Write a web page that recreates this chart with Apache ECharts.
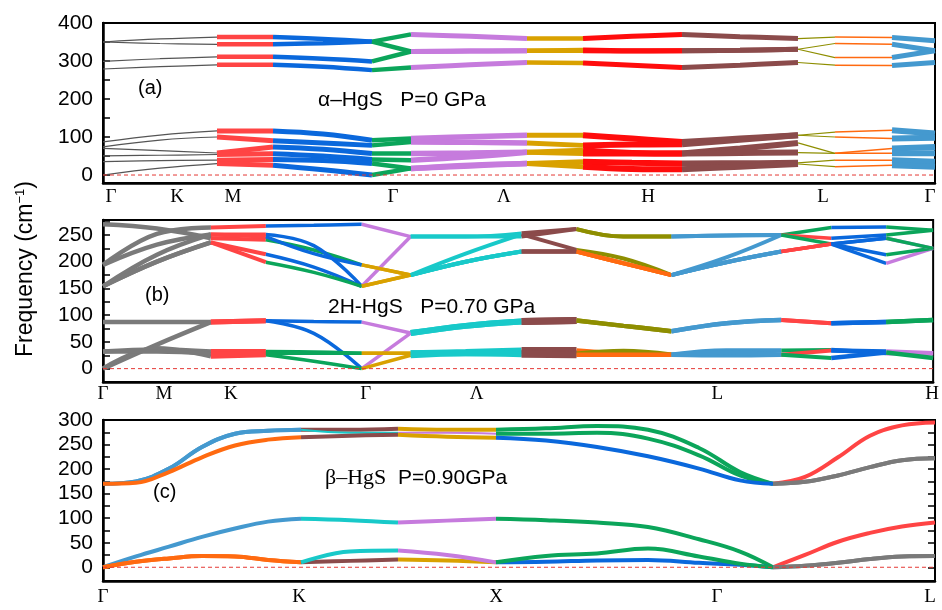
<!DOCTYPE html>
<html><head><meta charset="utf-8">
<script src="https://cdn.jsdelivr.net/npm/echarts@6/dist/echarts.min.js"></script>
<style>html,body{margin:0;padding:0;background:#fff}#c{width:942px;height:610px}</style>
</head><body><div id="c"></div>
<script>
// ---------------- DATA ----------------
// panel (a) alpha-HgS, path coordinate and band frequencies (cm^-1)
const aPath = [0, 57, 114, 170, 220, 269, 308, 367, 424, 480, 529, 579, 637, 695, 732, 789, 832];
const aH1 = [350, 358, 363, 363, 358, 351, 370, 365, 359, 359, 365, 370, 364, 359, 363, 362, 353];
const aH2 = [350, 346, 344, 344, 347, 351, 325, 326, 327, 329, 327, 327, 328, 331, 346, 344, 327];
const aH3 = [299, 306, 311, 311, 306, 299, 325, 326, 327, 327, 326, 327, 328, 331, 309, 309, 327];
const aH4 = [279, 285, 290, 290, 285, 276, 283, 290, 296, 295, 289, 283, 289, 296, 289, 288, 296];
const aL1 = [87, 105, 116, 116, 108, 91.5, 96, 101, 104.6, 104.6, 96, 87, 96, 104.6, 113, 117.6, 109];
const aL2 = [74, 92, 100, 90, 84, 78, 87, 86, 84.5, 78, 80, 81, 93, 104.6, 100, 96, 98];
const aL3 = [70, 64, 58, 74, 68, 56.6, 56.6, 58, 60, 65, 58, 56.6, 70, 84.5, 57, 70, 74];
const aL4 = [50.5, 52, 54, 56, 50, 41, 39, 48, 60, 56.6, 57, 56.6, 58, 59, 57, 57, 57];
const aL5 = [35, 38, 39, 41, 38, 30.5, 17.4, 24, 30.5, 35, 32, 30.5, 31, 32, 39, 39, 35];
const aL6 = [0, 18, 30, 26, 14, 0, 17.4, 26, 30.5, 22, 16, 15, 22, 29, 22, 26, 22];
const aTickNames = ['Γ', 'K', 'M', 'Γ', 'Λ', 'H', 'L', 'Γ'];
const aTickPos = [8, 74, 130, 290, 401, 545, 720, 827];
const aYTicks = [0, 50, 100, 150, 200, 250, 300, 350, 400];
const aYLabels = [0, 100, 200, 300, 400];

// panel (b) 2H-HgS
const bPath = [0, 54, 108, 163, 211, 259, 308, 363, 419, 474, 521, 569, 624, 679, 729, 784, 831];
const bA = [270, 262, 244, 241, 222, 194, 175, 200, 219, 219, 197, 175, 199, 219, 233, 197, 225];
const bB = [194, 252, 264, 267, 268, 270, 247, 247, 253, 261, 247, 247, 249, 250, 264, 265, 259];
const bC = [194, 232, 251, 251, 230, 154, 247, 247, 247, 261, 247, 247, 249, 250, 244, 250, 259];
const bD = [154, 213, 251, 247, 215, 194, 175, 215, 251, 222, 206, 175, 208, 250, 233, 213, 225];
const bE = [154, 200, 236, 214, 190, 154, 175, 200, 219, 219, 197, 175, 199, 219, 233, 244, 225];
const bF = [154, 200, 236, 199, 180, 154, 175, 200, 219, 219, 197, 175, 199, 219, 233, 244, 225];
const bQ1 = [87, 87, 87, 89.6, 88, 87, 66.5, 80, 88, 90, 80, 70, 85, 91, 85, 87, 91];
const bQ2 = [0, 45, 87, 89.6, 66, 0, 66.5, 80, 88, 90, 80, 70, 85, 91, 85, 87, 91];
const bQ3 = [32, 36, 32, 32, 31, 29, 29, 31, 34, 34, 28, 26, 34, 34, 35, 29, 29];
const bQ4 = [0, 38, 23, 26, 14, 0, 25, 29, 29, 28, 33, 26, 25, 26, 34, 32, 29];
const bQ5 = [32, 32, 28, 29, 29, 29, 29, 29, 27, 26, 26, 26, 30, 26, 20, 30, 20];
const bTickNames = ['Γ', 'M', 'K', 'Γ', 'Λ', 'L', 'H'];
const bTickPos = [0, 61, 128, 263, 374, 615, 830];
const bYTicks = [0, 25, 50, 75, 100, 125, 150, 175, 200, 225, 250, 275];
const bYLabels = [0, 50, 100, 150, 200, 250];

// panel (c) beta-HgS
const cPath = [0, 33, 66, 99, 132, 165, 198, 247, 295, 344, 393, 443, 494, 545, 596, 637, 670, 702, 735, 767, 799, 832];
const cU1 = [170, 175, 201, 245, 272, 278, 280, 280, 282, 280, 280, 283, 288, 280, 243, 194, 170, 184, 224, 268, 289, 295];
const cU2 = [170, 175, 201, 245, 272, 278, 280, 274, 274, 274, 272, 272, 274, 262, 228, 187, 170, 174, 187, 204, 218, 222];
const cU3 = [170, 172, 194, 224, 248, 260, 265, 268, 270, 266, 264, 258, 245, 226, 201, 177, 170, 174, 187, 204, 218, 222];
const cL1 = [0, 22, 42, 62, 79, 93, 99, 96, 91, 95, 99, 96, 91, 82, 57, 32, 0, 25, 52, 70, 83, 91];
const cL2 = [0, 11, 18, 23, 22, 15, 10, 13, 16, 14, 10, 11, 14, 15, 9, 5, 0, 3, 9, 17, 22, 23];
const cL3 = [0, 11, 18, 23, 22, 15, 10, 32, 34, 25, 10, 23, 28, 38, 22, 7, 0, 3, 9, 17, 22, 23];
const cTickNames = ['Γ', 'K', 'X', 'Γ', 'L'];
const cTickPos = [0, 196, 393, 614, 827];
const cYTicks = [0, 25, 50, 75, 100, 125, 150, 175, 200, 225, 250, 275, 300];
const cYLabels = [0, 50, 100, 150, 200, 250, 300];

// ---------------- STYLE ----------------
const COL = {grey:'#7a7a7a', dgrey:'#555555', red:'#FF4444', red2:'#FF0C0C', blue:'#0A68DC', green:'#0BA55A',
  purple:'#C67BDD', gold:'#D9A100', brown:'#8B4B4B', olive:'#8E8E00', orange:'#FF6A10', lblue:'#4499CF', cyan:'#18C9C9'};

const abSegs = [[0,2],[2,3],[3,5],[5,6],[6,8],[8,9],[9,11],[11,13],[13,14],[14,15],[15,16]];
const cSegs = [[0,6],[6,8],[8,10],[10,16],[16,21]];

const aSegCol = ['dgrey','red','blue','green','purple','gold','red2','brown','olive','orange','lblue'];
const aHiW = [1.2, 4.5, 4.5, 4.5, 5, 4.5, 5, 5, 1.2, 1.5, 5];
const aLoW = [1.2, 5, 5, 4.5, 5.5, 5, 6, 6, 1.2, 1.5, 6];

const bHiCol = [
  ['grey','red','green','gold','cyan','brown','orange','lblue','red','blue','purple'],
  ['grey','red','blue','purple','cyan','brown','olive','lblue','green','blue','green'],
  ['grey','red','blue','purple','cyan','brown','olive','lblue','red','blue','green'],
  ['grey','red','blue','gold','cyan','brown','olive','lblue','green','blue','green'],
  ['grey','red','blue','gold','cyan','brown','orange','lblue','red','blue','purple'],
  ['grey','red','green','gold','cyan','brown','orange','lblue','red','blue','green']];
const bLoCol = [
  ['grey','red','blue','purple','cyan','brown','olive','lblue','red','blue','green'],
  ['grey','red','blue','purple','cyan','brown','olive','lblue','red','blue','green'],
  ['grey','red','green','gold','cyan','brown','orange','lblue','green','blue','purple'],
  ['grey','red','green','gold','cyan','brown','olive','lblue','red','blue','purple'],
  ['grey','red','green','gold','cyan','brown','orange','lblue','green','blue','green']];
const bHiW = [4.5, 4, 3.5, 3.5, 4, 4, 4, 4, 3.5, 3.5, 3.5];
const bLoW = [4.5, 5, 3.5, 3.5, 6, 7, 4.5, 4.5, 4, 4.5, 4.5];

const cCol = [
  ['lblue','brown','gold','green','red'],
  ['lblue','cyan','purple','green','grey'],
  ['orange','brown','gold','blue','grey'],
  ['lblue','cyan','purple','green','red'],
  ['orange','brown','gold','blue','grey'],
  ['orange','cyan','purple','green','grey']];
const cW = [[4,4,4,4,4],[4,2,2,4,4],[4,4,4,4,4],[4,4,4,4,4],[4,4,4,4,4],[4,4,4,4,4]];

// ---------------- BUILD ----------------
const series = [];
function addBands(p, xs, bands, colors, widths, segs) {
  bands.forEach((band, bi) => {
    segs.forEach((sg, si) => {
      const data = [];
      for (let i = sg[0]; i <= sg[1]; i++) data.push([xs[i], band[i]]);
      series.push({type:'line', xAxisIndex:p, yAxisIndex:p, data, smooth:0.4,
        symbol:'none', silent:true, animation:false,
        lineStyle:{color:COL[colors[bi][si]], width:widths[bi][si], cap:'butt'}, z:3});
    });
  });
}
function zeroLine(p, xmax) {
  series.push({type:'line', xAxisIndex:p, yAxisIndex:p, data:[[0,0],[xmax,0]], symbol:'none', silent:true,
    animation:false, lineStyle:{color:'#E53935', width:1, type:[4,3]}, z:4});
}
const aHi = [aH1, aH2, aH3, aH4], aLo = [aL1, aL2, aL3, aL4, aL5, aL6];
addBands(0, aPath, aHi, aHi.map(()=>aSegCol), aHi.map(()=>aHiW), abSegs);
addBands(0, aPath, aLo, aLo.map(()=>aSegCol), aLo.map(()=>aLoW), abSegs);
const bHi = [bA, bB, bC, bD, bE, bF], bLo = [bQ1, bQ2, bQ3, bQ4, bQ5];
addBands(1, bPath, bHi, bHiCol, bHi.map(()=>bHiW), abSegs);
addBands(1, bPath, bLo, bLoCol, bLo.map(()=>bLoW), abSegs);
addBands(2, cPath, [cU1, cU2, cU3, cL1, cL2, cL3], cCol, cW, cSegs);
zeroLine(0, 832); zeroLine(1, 831); zeroLine(2, 832);

const sans = 'Liberation Sans, Arial, sans-serif';
const serif = 'Liberation Serif, Times New Roman, serif';

function xAx(g, max, pos, names, margin) {
  return {type:'value', gridIndex:g, min:0, max:max, position:'bottom',
    axisLine:{show:true, onZero:false, lineStyle:{color:'#000', width:2.5}}, axisTick:{show:false}, splitLine:{show:false},
    axisLabel:{customValues:pos, margin:margin, fontFamily:serif, fontSize:19, color:'#000',
      formatter:(v)=>{const k = pos.indexOf(v); return k >= 0 ? names[k] : '';}}};
}
function yAx(g, min, max, ticks, labels, right) {
  return {type:'value', gridIndex:g, min:min, max:max, position: right ? 'right' : 'left',
    axisLine:{show:true, onZero:false, lineStyle:{color:'#000', width: right ? 2 : 2.5}},
    axisTick:{show:true, inside:true, length:7, customValues:ticks, lineStyle:{color:'#000', width:1.5}},
    splitLine:{show:false},
    axisLabel: right ? {show:false} : {customValues:labels, margin:10, fontFamily:sans, fontSize:21, color:'#000'}};
}

const option = {
  backgroundColor:'#fff',
  animation:false,
  grid:[
    {left:103, top:23, width:832, height:160, show:true, borderColor:'#000', borderWidth:2},
    {left:103, top:220, width:831, height:162, show:true, borderColor:'#000', borderWidth:2},
    {left:103, top:420, width:832, height:161, show:true, borderColor:'#000', borderWidth:2}],
  xAxis:[xAx(0, 832, aTickPos, aTickNames, 5), xAx(1, 831, bTickPos, bTickNames, 3), xAx(2, 832, cTickPos, cTickNames, 7)],
  yAxis:[yAx(0, -21, 400, aYTicks, aYLabels), yAx(1, -25, 278, bYTicks, bYLabels), yAx(2, -28, 300, cYTicks, cYLabels),
         yAx(2, -28, 300, cYTicks, cYLabels, true)],
  series: series,
  graphic:[
    {type:'text', x:138, y:88, style:{text:'(a)', font:'20px '+sans, fill:'#000', verticalAlign:'middle'}},
    {type:'text', x:318, y:100, style:{text:'α–HgS   P=0 GPa', font:'21px '+sans, fill:'#000', verticalAlign:'middle'}},
    {type:'text', x:145, y:295, style:{text:'(b)', font:'20px '+sans, fill:'#000', verticalAlign:'middle'}},
    {type:'text', x:328, y:307, style:{text:'2H-HgS   P=0.70 GPa', font:'21px '+sans, fill:'#000', verticalAlign:'middle'}},
    {type:'text', x:153, y:492, style:{text:'(c)', font:'20px '+sans, fill:'#000', verticalAlign:'middle'}},
    {type:'text', x:325, y:478, style:{text:'{s|β–HgS}{n|  P=0.90GPa}', verticalAlign:'middle', fill:'#000',
      rich:{s:{fontFamily:serif, fontSize:22, fill:'#000'}, n:{fontFamily:sans, fontSize:21, fill:'#000'}}}},
    {type:'text', x:26, y:269, rotation:Math.PI/2, style:{text:'{a|Frequency (cm}{b|−1}{a|)}', align:'center', verticalAlign:'middle',
      rich:{a:{fontFamily:sans, fontSize:23, fill:'#000'}, b:{fontFamily:sans, fontSize:13, fill:'#000', padding:[0,0,12,0]}}}}
  ]
};
const chart = echarts.init(document.getElementById('c'), null, {renderer:'canvas'});
chart.setOption(option);
</script>
</body></html>
